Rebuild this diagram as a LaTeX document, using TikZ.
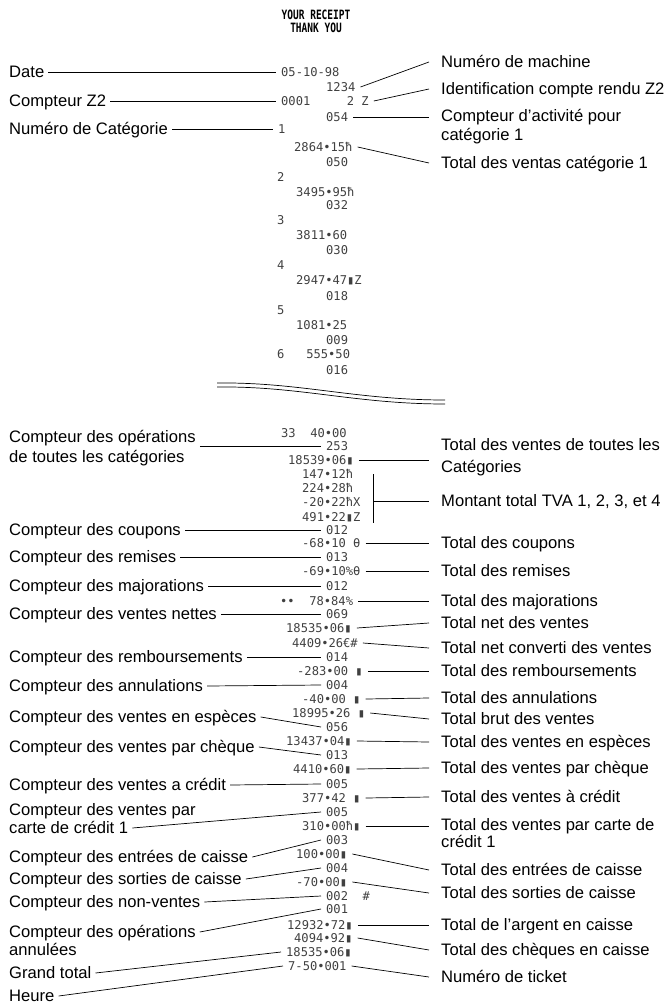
\documentclass[tikz,border=0pt]{standalone}
\usepackage{fontspec}
\setmainfont{Liberation Sans}
\newfontfamily\rcpt{DejaVu Sans Mono}

\begin{document}
\begin{tikzpicture}[x=1pt,y=-1pt]
%\draw[help lines] (0,0) grid[xstep=50,ystep=50] (668,1003);
\useasboundingbox (0,0) rectangle (668,1003);
\tikzstyle{lab}=[anchor=west,inner xsep=4pt,inner ysep=0pt,text height=12pt,text depth=1pt,font=\fontsize{16.6}{19}\selectfont]
\tikzstyle{tot}=[lab,inner xsep=12pt]
\tikzstyle{rc}=[anchor=west,inner xsep=5pt,inner ysep=0pt,text height=9pt,text depth=0pt,text=black!75,font=\rcpt\fontsize{12.1}{14}\selectfont]
\tikzstyle{every edge}=[draw,line width=0.7pt]

\node (hdr) at (316,15) {\scalebox{1}[1.35]{\rcpt\bfseries\fontsize{9.5}{10}\selectfont YOUR RECEIPT}};
\node (thx) at (316,28) {\scalebox{1}[1.35]{\rcpt\bfseries\fontsize{9.5}{10}\selectfont THANK YOU}};

% top part of the receipt
\node[rc] (rdate) at (276,72) {05-10-98};
\node[rc] (rmach) at (321,87) {1234};
\node[rc] (rz2) at (276,101) {0001\hphantom{00000}2 Z};
\node[rc] (ract) at (321,117) {054};
\node[rc] (rcat) at (273,129) {1};
\node[rc] (rt1) at (289,147) {2864•15ħ};
\node[rc] (rn1) at (321,162) {050};
\node[rc] (rcat2) at (272,177) {2};
\node[rc] (rt2) at (291,192) {3495•95ħ};
\node[rc] (rn2) at (321,205) {032};
\node[rc] (rcat3) at (272,220) {3};
\node[rc] (rt3) at (291,235) {3811•60};
\node[rc] (rn3) at (321,250) {030};
\node[rc] (rcat4) at (272,265) {4};
\node[rc] (rt4) at (291,280) {2947•47▮Z};
\node[rc] (rn4) at (321,296) {018};
\node[rc] (rcat5) at (272,310) {5};
\node[rc] (rt5) at (291,325) {1081•25};
\node[rc] (rn5) at (321,340) {009};
\node[rc] (rt6) at (272,354) {6\hphantom{000}555•50};
\node[rc] (rn6) at (321,370) {016};

\node[lab] (date) at (5,72) {Date};
\node[lab] (z2) at (5,101) {Compteur Z2};
\node[lab] (cat) at (5,129) {Numéro de Catégorie};

\node[tot] (mach) at (429,62) {Numéro de machine};
\node[tot] (ident) at (429,89) {Identification compte rendu Z2};
\node[tot] (act) at (429,116) {Compteur d'activité pour};
\node[tot] (act2) at (429,135) {catégorie 1};
\node[tot] (t1) at (429,163) {Total des ventas catégorie 1};

\path (date.east) edge (rdate.west);
\path (z2.east) edge (rz2.west);
\path (cat.east) edge (rcat.west);
\path (rmach.east) edge (mach.west);
\path (rz2.east) edge (ident.west);
\path (ract.east) edge (ract.east -| act.west);
\path (rt1.east) edge (t1.west);

% torn paper
\draw[line width=0.7pt] (217,383) .. controls (300,382) and (355,400) .. (445,400);
\draw[line width=0.7pt] (217,387) .. controls (300,386) and (355,404) .. (445,404);

% bottom part of the receipt
\node[rc] (r33) at (276,433) {33\hphantom{00}40•00};
\node[rc] (r253) at (321,446) {253};
\node[rc] (rtot) at (283,460) {18539•06▮};
\node[rc] (rv1) at (297,474) {147•12ħ};
\node[rc] (rv2) at (297,488) {224•28ħ};
\node[rc] (rv3) at (297,502) {-20•22ħX};
\node[rc] (rv4) at (297,517) {491•22▮Z};
\node[rc] (rcpc) at (321,530) {012};
\node[rc] (rcpt) at (297,543) {-68•10 θ};
\node[rc] (rrmc) at (321,557) {013};
\node[rc] (rrmt) at (297,571) {-69•10\%θ};
\node[rc] (rmjc) at (321,586) {012};
\node[rc] (rmjt) at (275,601) {••\hphantom{00}78•84\%};
\node[rc] (rntc) at (321,614) {069};
\node[rc] (rntt) at (281,628) {18535•06▮};
\node[rc] (rcnv) at (287,643) {4409•26€\#};
\node[rc] (rrbc) at (321,657) {014};
\node[rc] (rrbt) at (292,671) {-283•00 ▮};
\node[rc] (ranc) at (321,685) {004};
\node[rc] (rant) at (297,699) {-40•00 ▮};
\node[rc] (rbrt) at (287,713) {18995•26 ▮};
\node[rc] (resc) at (321,727) {056};
\node[rc] (rest) at (281,741) {13437•04▮};
\node[rc] (rchc) at (321,755) {013};
\node[rc] (rcht) at (288,769) {4410•60▮};
\node[rc] (rcrc) at (321,784) {005};
\node[rc] (rcrt) at (297,798) {377•42 ▮};
\node[rc] (rcdc) at (321,812) {005};
\node[rc] (rcdt) at (297,826) {310•00ħ▮};
\node[rc] (renc) at (321,840) {003};
\node[rc] (rent) at (291,854) {100•00▮};
\node[rc] (rsoc) at (321,868) {004};
\node[rc] (rsot) at (291,882) {-70•00▮};
\node[rc] (rnvc) at (321,896) {002\hphantom{00}\#};
\node[rc] (ranu) at (321,909) {001};
\node[rc] (rcash) at (282,925) {12932•72▮};
\node[rc] (rchq) at (289,938) {4094•92▮};
\node[rc] (rgt) at (281,952) {18535•06▮};
\node[rc] (rtime) at (283,966) {7-50•001};

\node[lab] (ops) at (5,437) {Compteur des opérations};
\node[lab] (ops2) at (5,457) {de toutes les catégories};
\node[lab] (cpc) at (5,530) {Compteur des coupons};
\node[lab] (rmc) at (5,557) {Compteur des remises};
\node[lab] (mjc) at (5,586) {Compteur des majorations};
\node[lab] (ntc) at (5,614) {Compteur des ventes nettes};
\node[lab] (rbc) at (5,657) {Compteur des remboursements};
\node[lab] (anc) at (5,686) {Compteur des annulations};
\node[lab] (esc) at (5,717) {Compteur des ventes en espèces};
\node[lab] (chc) at (5,747) {Compteur des ventes par chèque};
\node[lab] (crc) at (5,785) {Compteur des ventes a crédit};
\node[lab] (cdc) at (5,810) {Compteur des ventes par};
\node[lab] (cdc2) at (5,828) {carte de crédit 1};
\node[lab] (enc) at (5,857) {Compteur des entrées de caisse};
\node[lab] (soc) at (5,879) {Compteur des sorties de caisse};
\node[lab] (nvc) at (5,902) {Compteur des non-ventes};
\node[lab] (anu) at (5,932) {Compteur des opérations};
\node[lab] (anu2) at (5,950) {annulées};
\node[lab] (gt) at (5,973) {Grand total};
\node[lab] (time) at (5,996) {Heure};

\node[tot] (tot) at (429,445) {Total des ventes de toutes les};
\node[tot] (tot2) at (429,467) {Catégories};
\node[tot] (tva) at (429,501) {Montant total TVA 1, 2, 3, et 4};
\node[tot] (cpt) at (429,543) {Total des coupons};
\node[tot] (rmt) at (429,571) {Total des remises};
\node[tot] (mjt) at (429,601) {Total des majorations};
\node[tot] (ntt) at (429,623) {Total net des ventes};
\node[tot] (cnv) at (429,648) {Total net converti des ventes};
\node[tot] (rbt) at (429,671) {Total des remboursements};
\node[tot] (ant) at (429,698) {Total des annulations};
\node[tot] (brt) at (429,719) {Total brut des ventes};
\node[tot] (est) at (429,742) {Total des ventes en espèces};
\node[tot] (cht) at (429,768) {Total des ventes par chèque};
\node[tot] (crt) at (429,797) {Total des ventes à crédit};
\node[tot] (cdt) at (429,825) {Total des ventes par carte de};
\node[tot] (cdt2) at (429,842) {crédit 1};
\node[tot] (ent) at (429,870) {Total des entrées de caisse};
\node[tot] (sot) at (429,893) {Total des sorties de caisse};
\node[tot] (cash) at (429,925) {Total de l'argent en caisse};
\node[tot] (chq) at (429,950) {Total des chèques en caisse};
\node[tot] (tick) at (429,977) {Numéro de ticket};

\coordinate (brtop) at (373,474);
\coordinate (brbot) at (373,523);
\draw[line width=0.7pt] (brtop) -- (brbot);
\path (brtop |- tva.west) edge (tva.west);

\path (ops.east |- r253.west) edge (r253.west);
\path (cpc.east) edge (rcpc.west);
\path (rmc.east) edge (rrmc.west);
\path (mjc.east) edge (rmjc.west);
\path (ntc.east) edge (rntc.west);
\path (rbc.east) edge (rrbc.west);
\path (anc.east) edge (ranc.west);
\path (esc.east) edge (resc.west);
\path (chc.east) edge (rchc.west);
\path (crc.east) edge (rcrc.west);
\path (cdc2.east) edge (rcdc.west);
\path (enc.east) edge (renc.west);
\path (soc.east) edge (rsoc.west);
\path (nvc.east) edge (rnvc.west);
\path (anu.east) edge (ranu.west);
\path (gt.east) edge (rgt.west);
\path (time.east) edge (rtime.west);

\path (rtot.east) edge (rtot.east -| tot.west);
\path (rcpt.east) edge (cpt.west);
\path (rrmt.east) edge (rmt.west);
\path (rmjt.east) edge (mjt.west);
\path (rntt.east) edge (ntt.west);
\path (rcnv.east) edge (cnv.west);
\path (rrbt.east) edge (rbt.west);
\path (rant.east) edge (ant.west);
\path (rbrt.east) edge (brt.west);
\path (rest.east) edge (est.west);
\path (rcht.east) edge (cht.west);
\path (rcrt.east) edge (crt.west);
\path (rcdt.east) edge (rcdt.east -| cdt.west);
\path (rent.east) edge (ent.west);
\path (rsot.east) edge (sot.west);
\path (rcash.east) edge (cash.west);
\path (rchq.east) edge (chq.west);
\path (rtime.east) edge (tick.west);
\end{tikzpicture}
\end{document}
